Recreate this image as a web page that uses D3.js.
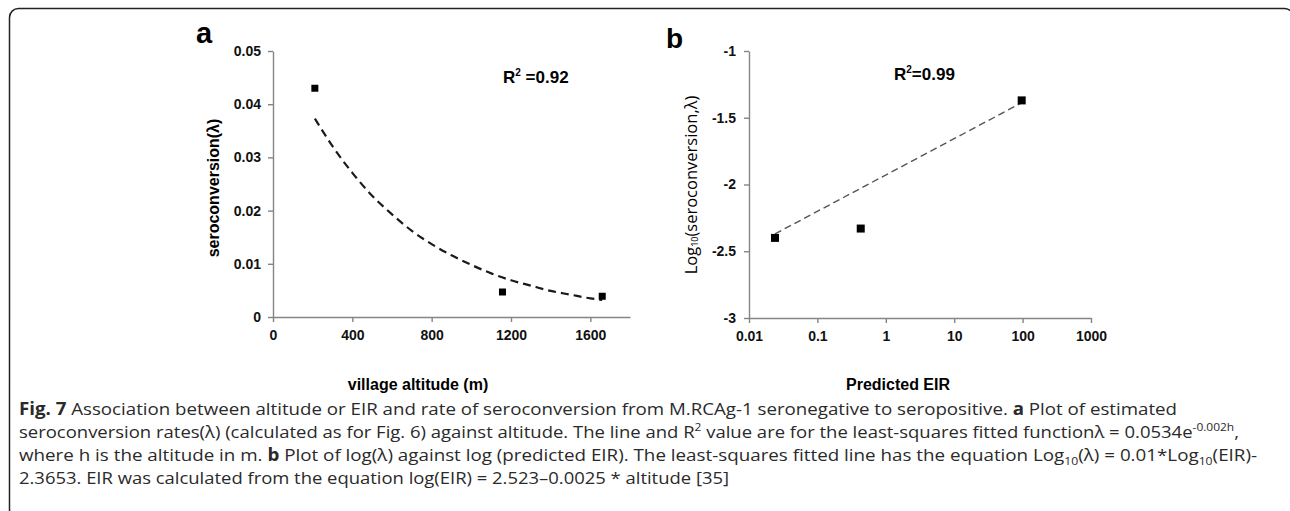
<!DOCTYPE html>
<html>
<head>
<meta charset="utf-8">
<script src="https://cdn.jsdelivr.net/npm/d3@7"></script>
<style>
  body { margin: 0; background: #fff; }
  .axis path, .axis line { stroke: #858585; stroke-width: 1.4; }
</style>
</head>
<body>
<div id="chart"></div>
<script>
// Panel a: altitude vs seroconversion rate
var altitude = [211, 1157, 1660];
var seroRate = [0.043, 0.0047, 0.0039];
// fitted curve
var fitAltitude = [211, 300, 400, 500, 600, 700, 800, 900, 1000, 1100, 1200, 1300, 1400, 1500, 1600, 1660];
var fitSeroRate = [0.0373, 0.0321, 0.0271, 0.0228, 0.0193, 0.0162, 0.0137, 0.0116, 0.0098, 0.0082, 0.0069, 0.0059, 0.0049, 0.0042, 0.0035, 0.0032];
var altTicks = [0, 400, 800, 1200, 1600];
var seroTicks = [0, 0.01, 0.02, 0.03, 0.04, 0.05];

// Panel b: predicted EIR vs log10 seroconversion
var eir = [0.024, 0.43, 97];
var logSero = [-2.40, -2.33, -1.37];
var fitEir = [0.024, 95];
var fitLogSero = [-2.37, -1.39];
var eirTicks = [0.01, 0.1, 1, 10, 100, 1000];
var logTicks = [-3, -2.5, -2, -1.5, -1];

var w = 1290, h = 511;
var chartFont = "'Liberation Sans', Arial, sans-serif";

var svg = d3.select("#chart")
    .append("svg")
    .attr("width", w)
    .attr("height", h);

// rounded frame round the figure
svg.append("rect")
    .attr("x", 9.5).attr("y", 8.5)
    .attr("width", 1284).attr("height", 510)
    .attr("rx", 9)
    .attr("fill", "none")
    .attr("stroke", "#222")
    .attr("stroke-width", 1.5);

function styleTicks(g) {
    g.selectAll(".tick text")
        .attr("font-family", chartFont)
        .attr("font-weight", "bold")
        .attr("font-size", 14)
        .attr("fill", "#111");
}

// ---------- panel a ----------
var xA = d3.scaleLinear().domain([0, 1800]).range([273, 630]);
var yA = d3.scaleLinear().domain([0, 0.05]).range([317, 51]);

svg.append("g")
    .attr("class", "axis")
    .attr("transform", "translate(0," + yA(0) + ")")
    .call(d3.axisBottom(xA).tickValues(altTicks).tickSize(5).tickSizeOuter(0).tickPadding(8)
        .tickFormat(function (d) { return String(d); }))
    .call(styleTicks);

svg.append("g")
    .attr("class", "axis")
    .attr("transform", "translate(" + xA(0) + ",0)")
    .call(d3.axisLeft(yA).tickValues(seroTicks).tickSize(5).tickSizeOuter(0).tickPadding(7)
        .tickFormat(function (d) { return d === 0 ? "0" : d3.format(".2f")(d); }))
    .call(styleTicks);

var lineA = d3.line()
    .x(function (d, i) { return xA(fitAltitude[i]); })
    .y(function (d) { return yA(d); })
    .curve(d3.curveMonotoneX);

svg.append("path")
    .datum(fitSeroRate)
    .attr("d", lineA)
    .attr("fill", "none")
    .attr("stroke", "#1a1a1a")
    .attr("stroke-width", 2.2)
    .attr("stroke-dasharray", "8,5");

svg.selectAll(".ptA")
    .data(seroRate)
    .enter()
    .append("rect")
    .attr("class", "ptA")
    .attr("x", function (d, i) { return xA(altitude[i]) - 3.5; })
    .attr("y", function (d) { return yA(d) - 3.5; })
    .attr("width", 7).attr("height", 7)
    .attr("fill", "#000");

svg.append("text")
    .attr("x", 196).attr("y", 43)
    .attr("font-family", chartFont).attr("font-weight", "bold").attr("font-size", 29)
    .text("a");

svg.append("text")
    .attr("transform", "translate(213," + 188 + ") rotate(-90)")
    .attr("text-anchor", "middle")
    .attr("dominant-baseline", "central")
    .attr("font-family", chartFont).attr("font-weight", "bold").attr("font-size", 16)
    .text("seroconversion(\u03bb)");

svg.append("text")
    .attr("x", 418).attr("y", 390)
    .attr("text-anchor", "middle")
    .attr("font-family", chartFont).attr("font-weight", "bold").attr("font-size", 16)
    .text("village altitude (m)");

var r2a = svg.append("text")
    .attr("x", 503).attr("y", 83)
    .attr("font-family", chartFont).attr("font-weight", "bold").attr("font-size", 17);
r2a.append("tspan").text("R");
r2a.append("tspan").attr("dy", -7).attr("font-size", 10).text("2");
r2a.append("tspan").attr("dy", 7).text(" =0.92");

// ---------- panel b ----------
var xB = d3.scaleLog().domain([0.01, 1000]).range([749, 1091]);
var yB = d3.scaleLinear().domain([-3, -1]).range([318, 51]);

svg.append("g")
    .attr("class", "axis")
    .attr("transform", "translate(0," + yB(-3) + ")")
    .call(d3.axisBottom(xB).tickValues(eirTicks).tickSize(5).tickSizeOuter(0).tickPadding(8)
        .tickFormat(function (d) { return String(d); }))
    .call(styleTicks);

svg.append("g")
    .attr("class", "axis")
    .attr("transform", "translate(" + xB(0.01) + ",0)")
    .call(d3.axisLeft(yB).tickValues(logTicks).tickSize(5).tickSizeOuter(0).tickPadding(8)
        .tickFormat(function (d) { return String(d); }))
    .call(styleTicks);

var lineB = d3.line()
    .x(function (d, i) { return xB(fitEir[i]); })
    .y(function (d) { return yB(d); });

svg.append("path")
    .datum(fitLogSero)
    .attr("d", lineB)
    .attr("fill", "none")
    .attr("stroke", "#555")
    .attr("stroke-width", 1.4)
    .attr("stroke-dasharray", "7,4");

svg.selectAll(".ptB")
    .data(logSero)
    .enter()
    .append("rect")
    .attr("class", "ptB")
    .attr("x", function (d, i) { return xB(eir[i]) - 4; })
    .attr("y", function (d) { return yB(d) - 4; })
    .attr("width", 8).attr("height", 8)
    .attr("fill", "#000");

svg.append("text")
    .attr("x", 666).attr("y", 48)
    .attr("font-family", chartFont).attr("font-weight", "bold").attr("font-size", 28)
    .text("b");

var yTitleB = svg.append("text")
    .attr("transform", "translate(690,185) rotate(-90)")
    .attr("text-anchor", "middle")
    .attr("dominant-baseline", "central")
    .attr("font-family", "'Open Sans', 'Noto Sans', sans-serif").attr("font-size", 16.5);
yTitleB.append("tspan").text("Log");
yTitleB.append("tspan").attr("dy", 4).attr("font-size", 9).text("10");
yTitleB.append("tspan").attr("dy", -4).text("(seroconversion,\u03bb)");

svg.append("text")
    .attr("x", 898).attr("y", 390)
    .attr("text-anchor", "middle")
    .attr("font-family", chartFont).attr("font-weight", "bold").attr("font-size", 16)
    .text("Predicted EIR");

var r2b = svg.append("text")
    .attr("x", 894).attr("y", 80)
    .attr("font-family", chartFont).attr("font-weight", "bold").attr("font-size", 17);
r2b.append("tspan").text("R");
r2b.append("tspan").attr("dy", -7).attr("font-size", 10).text("2");
r2b.append("tspan").attr("dy", 7).text("=0.99");

// ---------- caption ----------
var captionLines = [
    { y: 415, len: 1158, parts: [["b", "Fig. 7"], ["", " Association between altitude or EIR and rate of seroconversion from M.RCAg-1 seronegative to seropositive. "], ["b", "a"], ["", " Plot of estimated"]] },
    { y: 438, len: 1220, parts: [["", "seroconversion rates(\u03bb) (calculated as for Fig. 6) against altitude. The line and R"], ["sup", "2"], ["", " value are for the least-squares fitted function\u03bb = 0.0534e"], ["sup", "-0.002h"], ["", ","]] },
    { y: 461, len: 1238, parts: [["", "where h is the altitude in m. "], ["b", "b"], ["", " Plot of log(\u03bb) against log (predicted EIR). The least-squares fitted line has the equation Log"], ["sub", "10"], ["", "(\u03bb) = 0.01*Log"], ["sub", "10"], ["", "(EIR)-"]] },
    { y: 484, len: 710, parts: [["", "2.3653. EIR was calculated from the equation log(EIR) = 2.523\u20130.0025 * altitude [35]"]] }
];

captionLines.forEach(function (line) {
    var t = svg.append("text")
        .attr("x", 19).attr("y", line.y)
        .attr("font-family", "'Open Sans', 'Noto Sans', sans-serif")
        .attr("font-size", 17)
        .attr("fill", "#2a2a2a")
        .attr("textLength", line.len)
        .attr("lengthAdjust", "spacingAndGlyphs");
    var shift = 0;
    line.parts.forEach(function (p) {
        var s = t.append("tspan").text(p[1]);
        var target = p[0] === "sup" ? -7 : (p[0] === "sub" ? 4 : 0);
        if (target !== shift) { s.attr("dy", target - shift); shift = target; }
        if (p[0] === "b") s.attr("font-weight", "bold");
        if (p[0] === "sup" || p[0] === "sub") s.attr("font-size", 11);
    });
});
</script>
</body>
</html>
